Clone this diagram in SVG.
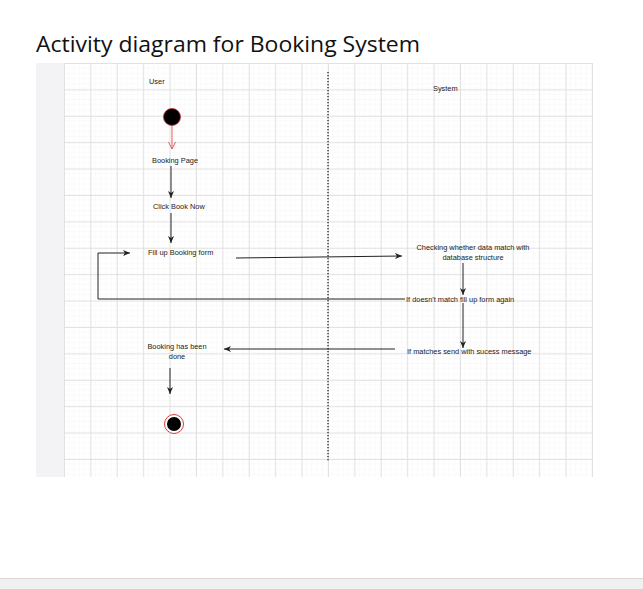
<svg xmlns="http://www.w3.org/2000/svg" width="643" height="589" viewBox="0 0 643 589">
<style>
.t{font-family:"Liberation Sans",Arial,sans-serif;font-size:7.4px;fill:#222}
.c{stroke:#222;stroke-width:1;fill:none}
</style>
<defs>
<pattern id="g1" x="64" y="63" width="5.28" height="5.28" patternUnits="userSpaceOnUse"><path d="M5.28 0V5.28H0" fill="none" stroke="#efefef" stroke-width="0.6"/></pattern>
<pattern id="g2" x="64" y="63" width="26.4" height="26.4" patternUnits="userSpaceOnUse"><path d="M0.5 0V26.4M0 0.5H26.4" fill="none" stroke="#dcdcdc" stroke-width="0.8"/></pattern>
<marker id="a" markerWidth="8" markerHeight="8" refX="7" refY="4" orient="auto" markerUnits="userSpaceOnUse"><path d="M0,1 L7,4 L0,7 L2,4z" fill="#222"/></marker>
<marker id="r" markerWidth="8" markerHeight="8" refX="7" refY="4" orient="auto" markerUnits="userSpaceOnUse"><path d="M0,0.5 L7,4 L0,7.5" fill="none" stroke="#e06060"/></marker>
</defs>
<rect width="643" height="589" fill="#fff"/>
<text x="36" y="52" font-family="'Open Sans','Liberation Sans',Arial,sans-serif" font-size="22" fill="#111" textLength="384" lengthAdjust="spacingAndGlyphs">Activity diagram for Booking System</text>
<rect x="36" y="63" width="28" height="414" fill="#f3f3f5"/>
<rect x="64" y="63" width="529" height="414" fill="url(#g1)"/>
<rect x="64" y="63" width="529" height="414" fill="url(#g2)"/>
<line x1="328" y1="72" x2="328" y2="462" stroke="#222" stroke-width="1.3" stroke-dasharray="1.3,1.7"/>
<g id="lanes">
<text class="t" x="149" y="84">User</text>
<text class="t" x="433" y="91">System</text>
</g>
<g id="start"><circle cx="172" cy="117" r="8.5" fill="#000" stroke="#c03030" stroke-width="0.8"/></g>
<g id="n1"><text class="t" x="152" y="163">Booking Page</text></g>
<g id="n2"><text class="t" x="153" y="209">Click Book Now</text></g>
<g id="n3"><text class="t" x="148" y="255">Fill up Booking form</text></g>
<g id="n4"><text class="t" x="473" y="250" text-anchor="middle">Checking whether data match with</text><text class="t" x="473" y="260" text-anchor="middle">database structure</text></g>
<g id="n5"><text class="t" x="406" y="302">If doesn't match fill up form again</text></g>
<g id="n6"><text class="t" x="407" y="354">If matches send with sucess message</text></g>
<g id="n7"><text class="t" x="177" y="349" text-anchor="middle">Booking has been</text><text class="t" x="177" y="359" text-anchor="middle">done</text></g>
<g id="end"><circle cx="174" cy="424" r="9.5" fill="#fff" stroke="#d04040" stroke-width="1"/><circle cx="174" cy="424" r="7" fill="#000"/></g>
<g id="connectors">
<line x1="172" y1="126" x2="172" y2="149" stroke="#e06060" marker-end="url(#r)"/>
<line class="c" x1="171" y1="166" x2="171" y2="198" marker-end="url(#a)"/>
<line class="c" x1="171" y1="213" x2="171" y2="243" marker-end="url(#a)"/>
<line class="c" x1="236" y1="258" x2="402" y2="256" marker-end="url(#a)"/>
<line class="c" x1="463" y1="263" x2="463" y2="295" marker-end="url(#a)"/>
<polyline class="c" points="405,299 98,299 98,253 130,253" marker-end="url(#a)"/>
<line class="c" x1="463" y1="303" x2="463" y2="348" marker-end="url(#a)"/>
<line class="c" x1="395" y1="349" x2="224" y2="349" marker-end="url(#a)"/>
<line class="c" x1="170" y1="368" x2="170" y2="394" marker-end="url(#a)"/>
</g>
<rect x="0" y="578" width="643" height="11" fill="#f0f0f0"/>
<line x1="0" y1="578.5" x2="643" y2="578.5" stroke="#d8d8d8"/>
</svg>
